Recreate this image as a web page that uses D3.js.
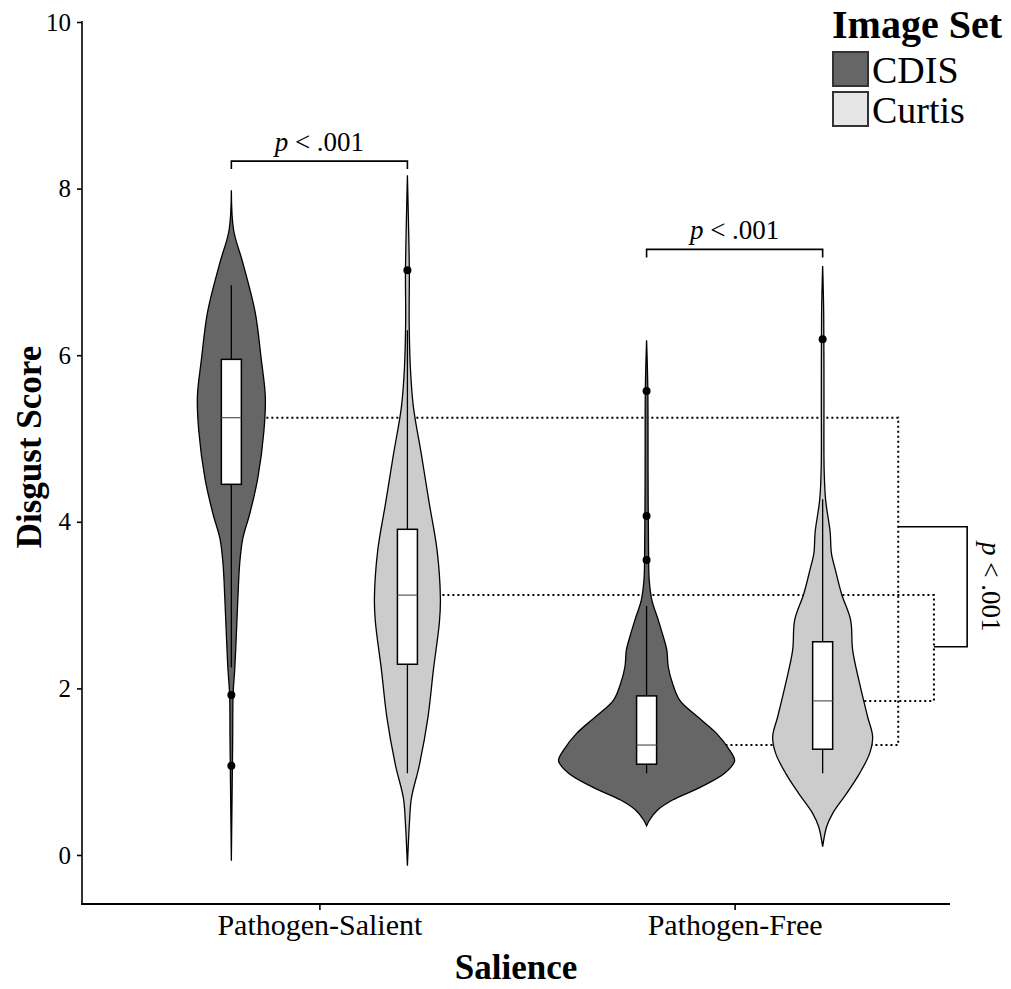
<!DOCTYPE html>
<html>
<head>
<meta charset="utf-8">
<script src="https://cdn.jsdelivr.net/npm/d3@7"></script>
<style>
    body { margin: 0; background: #fff; }
    svg { font-family: "Liberation Serif", "Times New Roman", serif; }
</style>
</head>
<body>
<svg id="chart"></svg>
<script>
// ---- data ----
const saliences = ["Pathogen-Salient", "Pathogen-Free"];
const imageSets = ["CDIS", "Curtis"];
const yTicks = [0, 2, 4, 6, 8, 10];

// violin outlines: [disgust score, relative density]
const violinCdisSalient = [[7.98, 0], [7.5, 0.026], [7.1, 0.133], [6.52, 0.27], [5.95, 0.34], [5.5, 0.386], [5.09, 0.37],
    [4.52, 0.3], [4.1, 0.21], [3.8, 0.13], [3.5, 0.095], [3.1, 0.075], [2.6, 0.055], [2.22, 0.038], [1.94, 0.02],
    [1.37, 0.015], [0.79, 0.009], [-0.07, 0]];
const violinCurtisSalient = [[8.16, 0], [7.6, 0.012], [7.0, 0.022], [6.4, 0.02], [5.84, 0.034], [5.38, 0.068], [4.8, 0.16],
    [4.23, 0.247], [3.66, 0.337], [3.08, 0.375], [2.8, 0.364], [2.22, 0.295], [1.65, 0.233], [1.08, 0.136], [0.68, 0.045],
    [0.39, 0.023], [-0.13, 0]];
const violinCdisFree = [[6.18, 0], [5.6, 0.014], [4.5, 0.017], [3.54, 0.023], [3.3, 0.03], [3.06, 0.06], [2.82, 0.133],
    [2.62, 0.19], [2.46, 0.23], [2.26, 0.246], [2.06, 0.295], [1.86, 0.375], [1.66, 0.58], [1.46, 0.795], [1.26, 0.943],
    [1.13, 1.0], [0.98, 0.886], [0.82, 0.625], [0.66, 0.295], [0.54, 0.125], [0.42, 0.034], [0.35, 0]];
const violinCurtisFree = [[7.07, 0], [6.5, 0.012], [5.5, 0.015], [4.62, 0.017], [4.26, 0.034], [3.88, 0.085], [3.62, 0.1],
    [3.42, 0.145], [3.13, 0.216], [2.82, 0.318], [2.46, 0.341], [2.06, 0.42], [1.66, 0.511], [1.42, 0.568], [1.22, 0.534],
    [0.98, 0.42], [0.74, 0.273], [0.5, 0.114], [0.34, 0.045], [0.1, 0]];

// order: CDIS/Salient, Curtis/Salient, CDIS/Free, Curtis/Free
const groupSalience = ["Pathogen-Salient", "Pathogen-Salient", "Pathogen-Free", "Pathogen-Free"];
const groupSet = ["CDIS", "Curtis", "CDIS", "Curtis"];
const violins = [violinCdisSalient, violinCurtisSalient, violinCdisFree, violinCurtisFree];
const q1s = [4.45, 2.29, 1.09, 1.27];
const medians = [5.25, 3.12, 1.32, 1.85];
const q3s = [5.95, 3.91, 1.91, 2.56];
const whiskerLow = [2.25, 0.98, 0.98, 0.98];
const whiskerHigh = [6.84, 6.3, 2.99, 4.27];
const outliers = [[1.92, 1.07], [7.02], [3.54, 4.07, 5.57], [6.19]];

// significance brackets between image sets
const pairBracketY = [8.33, 7.27];
const pairLabels = ["p < .001", "p < .001"];
// dotted median links and the bracket joining them (x in axis units)
const linkFrom = [0, 1];
const linkTo = [2, 3];
const linkX = [2.394, 2.48];
const linkBracketY = [3.94, 2.5];
const linkBracketX = 2.56;
const linkLabelX = 2.595;

// ---- layout ----
const width = 1011, height = 989;
const svg = d3.select("#chart").attr("width", width).attr("height", height);

const y = d3.scaleLinear().domain([0, 10]).range([855, 22]);
const x = d3.scalePoint().domain(saliences).range([91, 963]).padding(0.55);
const xUnit = d3.scaleLinear().domain([1, 2]).range([x(saliences[0]), x(saliences[1])]);
const dodge = d3.scalePoint().domain(imageSets).range([-0.212, 0.212]);
const densityWidth = d3.scaleLinear().domain([0, 1]).range([0, 88]);
const fill = d3.scaleOrdinal().domain(imageSets).range(["#666666", "#cccccc"]);
const keyFill = d3.scaleOrdinal().domain(imageSets).range(["#666666", "#e6e6e6"]);

const panelLeft = 82, panelRight = 950, panelBottom = 904;

function centerOf(i) {
    return xUnit(saliences.indexOf(groupSalience[i]) + 1 + dodge(groupSet[i]));
}

// dotted median links (drawn under the violins)
const links = svg.append("g")
    .attr("fill", "none")
    .attr("stroke", "#000")
    .attr("stroke-width", 2)
    .attr("stroke-dasharray", "2,3");
linkFrom.forEach((from, k) => {
    const to = linkTo[k];
    const xl = xUnit(linkX[k]);
    links.append("path")
        .attr("d", `M${centerOf(from)},${y(medians[from])}H${xl}V${y(medians[to])}H${centerOf(to)}`);
});

// violins
const area = d3.area().curve(d3.curveCatmullRom.alpha(0.5));
violins.forEach((v, i) => {
    const c = centerOf(i);
    area.y(d => y(d[0])).x0(d => c - densityWidth(d[1])).x1(d => c + densityWidth(d[1]));
    svg.append("path")
        .attr("d", area(v))
        .attr("fill", fill(groupSet[i]))
        .attr("stroke", "#000")
        .attr("stroke-width", 1.3);
});

// box plots
const boxW = 20;
violins.forEach((v, i) => {
    const c = centerOf(i);
    const g = svg.append("g");
    g.append("line")
        .attr("x1", c).attr("x2", c)
        .attr("y1", y(whiskerLow[i])).attr("y2", y(whiskerHigh[i]))
        .attr("stroke", "#000").attr("stroke-width", 1.3);
    g.append("rect")
        .attr("x", c - boxW / 2).attr("width", boxW)
        .attr("y", y(q3s[i])).attr("height", y(q1s[i]) - y(q3s[i]))
        .attr("fill", "#fff").attr("stroke", "#000").attr("stroke-width", 1.5);
    g.append("line")
        .attr("x1", c - boxW / 2).attr("x2", c + boxW / 2)
        .attr("y1", y(medians[i])).attr("y2", y(medians[i]))
        .attr("stroke", "#555").attr("stroke-width", 1.2);
    g.selectAll("circle")
        .data(outliers[i])
        .enter().append("circle")
        .attr("cx", c)
        .attr("cy", d => y(d))
        .attr("r", 4)
        .attr("fill", "#000");
});

// p-value label helper
function pLabel(sel, text) {
    sel.append("tspan").attr("font-style", "italic").text(text.slice(0, 1));
    sel.append("tspan").text(text.slice(1));
}

// brackets between image sets
pairBracketY.forEach((by, k) => {
    const xa = xUnit(k + 1 + dodge("CDIS"));
    const xb = xUnit(k + 1 + dodge("Curtis"));
    svg.append("path")
        .attr("d", `M${xa},${y(by) + 8}V${y(by)}H${xb}V${y(by) + 8}`)
        .attr("fill", "none").attr("stroke", "#000").attr("stroke-width", 1.6);
    svg.append("text")
        .attr("x", (xa + xb) / 2)
        .attr("y", y(by) - 10)
        .attr("text-anchor", "middle")
        .style("font-size", "27px")
        .call(pLabel, pairLabels[k]);
});

// bracket joining the two median links
svg.append("path")
    .attr("d", `M${xUnit(linkX[0])},${y(linkBracketY[0])}H${xUnit(linkBracketX)}V${y(linkBracketY[1])}H${xUnit(linkX[1])}`)
    .attr("fill", "none").attr("stroke", "#000").attr("stroke-width", 1.6);
const midY = (y(linkBracketY[0]) + y(linkBracketY[1])) / 2;
svg.append("text")
    .attr("transform", `translate(${xUnit(linkLabelX)},${midY}) rotate(90)`)
    .attr("text-anchor", "middle")
    .style("font-size", "27px")
    .call(pLabel, "p < .001");

// y axis
const yAxis = svg.append("g")
    .attr("transform", `translate(${panelLeft},0)`)
    .call(d3.axisLeft(y).tickValues(yTicks).tickSize(5).tickPadding(6));
yAxis.select(".domain").remove();
yAxis.selectAll(".tick line").attr("stroke", "#000").attr("stroke-width", 1.6);
yAxis.selectAll(".tick text")
    .attr("fill", "#000")
    .style("font-family", "'Liberation Serif', serif")
    .style("font-size", "25px");
svg.append("line")
    .attr("x1", panelLeft).attr("x2", panelLeft)
    .attr("y1", y(10) - 1).attr("y2", panelBottom)
    .attr("stroke", "#000").attr("stroke-width", 1.6);

// x axis
const xAxis = svg.append("g")
    .attr("transform", `translate(0,${panelBottom})`)
    .call(d3.axisBottom(x).tickSize(6).tickPadding(4));
xAxis.select(".domain").remove();
xAxis.selectAll(".tick line").attr("stroke", "#000").attr("stroke-width", 1.6);
xAxis.selectAll(".tick text")
    .attr("fill", "#000")
    .style("font-family", "'Liberation Serif', serif")
    .style("font-size", "30px");
svg.append("line")
    .attr("x1", panelLeft - 1).attr("x2", panelRight)
    .attr("y1", panelBottom).attr("y2", panelBottom)
    .attr("stroke", "#000").attr("stroke-width", 1.8);

// axis titles
svg.append("text")
    .attr("x", (panelLeft + panelRight) / 2)
    .attr("y", 979)
    .attr("text-anchor", "middle")
    .style("font-weight", "bold")
    .style("font-size", "35px")
    .text("Salience");

svg.append("text")
    .attr("transform", "translate(41,447) rotate(-90)")
    .attr("text-anchor", "middle")
    .style("font-weight", "bold")
    .style("font-size", "35px")
    .text("Disgust Score");

// legend
const legend = svg.append("g").attr("transform", "translate(832,0)");
legend.append("text")
    .attr("x", 0).attr("y", 38)
    .style("font-weight", "bold")
    .style("font-size", "40px")
    .text("Image Set");
imageSets.forEach((s, i) => {
    legend.append("rect")
        .attr("x", 1).attr("y", 52 + i * 40)
        .attr("width", 35).attr("height", 34)
        .attr("fill", keyFill(s))
        .attr("stroke", "#333").attr("stroke-width", 2);
    legend.append("text")
        .attr("x", 40).attr("y", 83 + i * 40)
        .style("font-size", "38px")
        .text(s);
});
</script>
</body>
</html>
